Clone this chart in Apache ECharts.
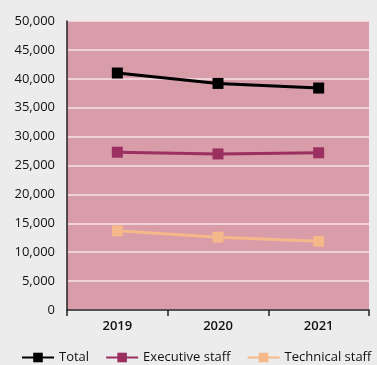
<!DOCTYPE html>
<html>
<head>
<meta charset="utf-8">
<script src="https://cdn.jsdelivr.net/npm/echarts@6/dist/echarts.min.js"></script>
<style>
  html, body { margin: 0; padding: 0; background: #ececec; }
  #chart { width: 377px; height: 365px; }
</style>
</head>
<body>
<div id="chart"></div>
<script>
const years = ['2019', '2020', '2021'];
const total = [41000, 39200, 38400];
const executive = [27300, 27000, 27200];
const technical = [13700, 12600, 11900];

const chart = echarts.init(document.getElementById('chart'));

const lineSeries = (name, data, color) => ({
  name,
  type: 'line',
  data,
  symbol: 'rect',
  symbolSize: 11,
  lineStyle: { width: 3, color },
  itemStyle: { color },
  emphasis: { disabled: true }
});

chart.setOption({
  backgroundColor: '#ececec',
  animation: false,
  textStyle: { fontFamily: 'Open Sans' },
  grid: {
    left: 67, right: 8, top: 21, bottom: 55,
    show: true, backgroundColor: '#d99ca9', borderWidth: 0
  },
  legend: {
    top: 346,
    left: 16,
    width: 361,
    itemWidth: 32,
    itemHeight: 12,
    itemGap: 16,
    textStyle: { fontSize: 13, color: '#111', fontWeight: 500 },
    data: ['Total', 'Executive staff', 'Technical staff']
  },
  xAxis: {
    type: 'category',
    data: years,
    boundaryGap: true,
    axisLine: { lineStyle: { color: '#222', width: 1.5 } },
    axisTick: { show: true, length: 6, lineStyle: { color: '#222', width: 1.5 } },
    axisLabel: { fontSize: 13, color: '#111', fontWeight: 600, margin: 10 }
  },
  yAxis: {
    type: 'value',
    min: 0,
    max: 50000,
    interval: 5000,
    axisLine: { show: true, lineStyle: { color: '#222', width: 1.5 } },
    axisTick: { show: false },
    splitLine: { lineStyle: { color: '#f5e4e8', width: 1.5 } },
    axisLabel: {
      fontSize: 13, color: '#111', fontWeight: 500, margin: 12,
      formatter: v => v.toLocaleString('en-US')
    }
  },
  series: [
    lineSeries('Total', total, '#000000'),
    lineSeries('Executive staff', executive, '#9b3060'),
    lineSeries('Technical staff', technical, '#f4b88a')
  ]
});
</script>
</body>
</html>
